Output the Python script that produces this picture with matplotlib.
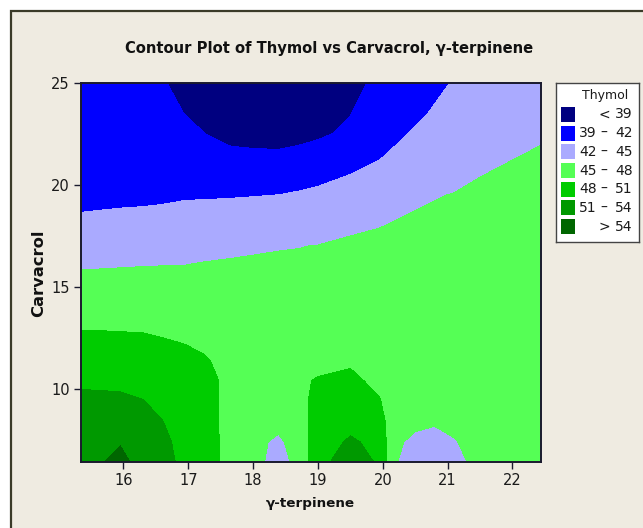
"""
Contour plot of Thymol vs Carvacrol and gamma-terpinene (Minitab style)
"""

import numpy as np
import matplotlib.pyplot as plt
from matplotlib.patches import Rectangle

# grid
gamma_terpinene = [15.33, 15.6, 15.95, 16.3, 16.6, 16.95, 17.25, 17.65, 18.0, 18.39, 18.7,
                   19.0, 19.5, 19.95, 20.15, 20.5, 20.8, 21.1, 21.5, 22.0, 22.46]
carvacrol = [6.42, 7.4, 8.4, 9.4, 10.4, 11.4, 12.5, 14.0, 15.5, 17.0, 18.5,
             19.5, 20.5, 21.5, 22.5, 23.5, 25.0]

# one list per gamma-terpinene column, values bottom -> top
col_a = [53.2, 52.59, 51.97, 51.35, 50.74, 49.6, 48.38, 46.86, 45.35, 43.74, 42.10, 41.4, 41.0, 40.73, 40.47, 40.2, 39.8]
col_b = [53.6, 52.89, 52.17, 51.45, 50.60, 49.54, 48.36, 46.86, 45.39, 43.81, 42.19, 41.4, 41.0, 40.67, 40.33, 40.0, 39.5]
col_c = [55.0, 53.76, 52.63, 51.49, 50.42, 49.41, 48.29, 46.86, 45.44, 43.91, 42.33, 41.4, 41.0, 40.62, 40.24, 39.87, 39.3]
col_d = [52.7, 52.16, 51.61, 51.07, 50.19, 49.26, 48.23, 46.86, 45.49, 44.0, 42.45, 41.4, 41.0, 40.58, 40.16, 39.73, 39.1]
col_e = [51.8, 51.6, 51.05, 50.34, 49.58, 48.84, 48.01, 46.75, 45.50, 44.08, 42.55, 41.53, 41.0, 40.57, 40.15, 39.72, 39.2]
col_f = [50.4, 50.1, 49.8, 49.45, 49.05, 48.6, 47.76, 46.63, 45.50, 44.17, 42.66, 41.76, 41.05, 40.35, 39.64, 38.95, 38.2]
col_g = [49.0, 48.9, 48.8, 48.75, 48.6, 48.2, 47.42, 46.45, 45.47, 44.5, 42.75, 41.78, 40.86, 39.94, 39.02, 38.45, 37.6]
col_h = [47.3, 47.3, 47.35, 47.4, 47.5, 47.3, 47.0, 46.2, 45.45, 44.69, 42.87, 41.83, 40.64, 39.45, 38.3, 37.7, 36.8]
col_i = [46.0, 45.72, 46.3, 46.6, 46.8, 46.8, 46.6, 46.1, 45.45, 44.81, 42.97, 41.91, 40.63, 39.35, 38.1, 37.3, 36.3]
col_j = [43.8, 44.5, 45.8, 46.3, 46.6, 46.6, 46.4, 46.0, 45.45, 44.91, 43.09, 42.01, 40.66, 39.30, 38.0, 37.2, 36.2]
col_k = [45.87, 46.2, 46.4, 46.8, 47.7, 46.9, 46.5, 46.1, 45.53, 44.95, 43.30, 42.25, 40.94, 39.53, 38.3, 37.5, 36.6]
col_l = [50.13, 49.9, 49.6, 49.2, 48.15, 47.4, 46.8, 46.3, 45.66, 45.05, 43.52, 42.50, 41.32, 39.99, 38.6, 38.0, 37.3]
col_m = [52.42, 51.3, 50.3, 49.5, 48.6, 47.6, 47.0, 46.5, 45.86, 45.21, 44.57, 43.29, 42.01, 40.96, 39.5, 38.92, 38.0]
col_n = [50.65, 50.4, 49.6, 48.2, 47.3, 47.0, 46.8, 46.5, 45.92, 45.34, 44.76, 43.75, 42.73, 41.72, 41.26, 40.67, 39.8]
col_o = [45.5, 45.7, 46.0, 46.2, 46.3, 46.4, 46.4, 46.3, 45.83, 45.37, 44.90, 44.02, 43.14, 42.26, 41.36, 40.83, 40.2]
col_p = [43.3, 44.3, 45.7, 46.1, 46.3, 46.4, 46.4, 46.3, 45.89, 45.48, 45.07, 44.78, 43.95, 43.12, 42.29, 41.46, 40.8]
col_q = [43.0, 44.0, 45.3, 45.9, 46.2, 46.4, 46.45, 46.4, 46.0, 45.59, 45.19, 44.92, 44.27, 43.61, 42.96, 42.30, 41.32]
col_r = [44.0, 44.8, 45.8, 46.2, 46.4, 46.5, 46.5, 46.4, 46.03, 45.66, 45.29, 45.05, 44.57, 44.05, 43.52, 42.99, 42.2]
col_s = [46.0, 46.2, 46.4, 46.5, 46.6, 46.6, 46.6, 46.5, 46.15, 45.79, 45.44, 45.20, 44.97, 44.41, 43.89, 43.38, 42.6]
col_t = [46.5, 46.6, 46.7, 46.7, 46.8, 46.8, 46.8, 46.7, 46.35, 45.99, 45.64, 45.40, 45.17, 44.93, 44.32, 43.79, 43.0]
col_u = [46.8, 46.9, 46.9, 47.0, 47.0, 47.0, 47.0, 46.9, 46.54, 46.19, 45.83, 45.59, 45.35, 45.11, 44.88, 44.24, 43.5]

levels = [39, 42, 45, 48, 51, 54]
colors = ["#000080", "#0000ff", "#aaaaff", "#55ff55", "#00cc00", "#009900", "#006600"]

x_ticks = [16, 17, 18, 19, 20, 21, 22]
y_ticks = [10, 15, 20, 25]

thymol = np.array([col_a, col_b, col_c, col_d, col_e, col_f, col_g, col_h, col_i, col_j, col_k,
                   col_l, col_m, col_n, col_o, col_p, col_q, col_r, col_s, col_t, col_u]).T
X, Y = np.meshgrid(gamma_terpinene, carvacrol)

W, H = 643, 528
bg = "#efebe1"
dark = "#1a1a2e"
txt = "#1a1a1a"

fig = plt.figure(figsize=(W / 100, H / 100), dpi=100, facecolor="white")
frame = Rectangle((11 / W, -0.05), 1.0, (H - 11) / H + 0.05, transform=fig.transFigure,
                  facecolor=bg, edgecolor="#3a3a28", linewidth=1.6, zorder=-10)
fig.patches.append(frame)

ax = fig.add_axes([80.7 / W, (H - 462) / H, (541 - 80.7) / W, (462 - 82.7) / H])
ax.contourf(X, Y, thymol, levels=[0] + levels + [100], colors=colors)
ax.set_xlim(15.34, 22.44)
ax.set_ylim(6.42, 25)
ax.set_xticks(x_ticks)
ax.set_yticks(y_ticks)
for sp in ax.spines.values():
    sp.set_color(dark)
    sp.set_linewidth(1.4)
ax.tick_params(direction="out", length=5, width=1, color=dark, labelsize=10.5,
               labelcolor=txt, pad=3)

fig.text(329.5 / W, 1 - 48 / H, "Contour Plot of Thymol vs Carvacrol, γ-terpinene",
         ha="center", va="center", fontsize=11.8, fontweight="bold", fontstretch="condensed",
         color="#111111")
fig.text(39 / W, 1 - 273 / H, "Carvacrol", rotation=90, ha="center", va="center",
         fontsize=11.8, fontweight="bold", color="#111111")
fig.text(310 / W, 1 - 503 / H, "γ-terpinene", ha="center", va="center",
         fontsize=9.7, fontweight="bold", color="#111111")

# legend box drawn in pixel coordinates
lax = fig.add_axes([556 / W, (H - 242) / H, 83 / W, 159 / H])
lax.set_xlim(556, 639)
lax.set_ylim(242, 83)
lax.set_xticks([])
lax.set_yticks([])
for sp in lax.spines.values():
    sp.set_color("#444444")
    sp.set_linewidth(1)
lax.text(605, 96, "Thymol", ha="center", va="center", fontsize=9, color=txt)

bounds = [None] + levels + [None]
for i, c in enumerate(colors):
    yc = 114.5 + i * 18.67
    lax.add_patch(Rectangle((561, yc - 7.5), 14, 15, facecolor=c, edgecolor="none"))
    lo, hi = bounds[i], bounds[i + 1]
    if lo is None:
        lax.text(604, yc, "<", ha="center", va="center", fontsize=10, color=txt)
        lax.text(624, yc, f"{hi}", ha="center", va="center", fontsize=10, color=txt)
    elif hi is None:
        lax.text(604, yc, ">", ha="center", va="center", fontsize=10, color=txt)
        lax.text(624, yc, f"{lo}", ha="center", va="center", fontsize=10, color=txt)
    else:
        lax.text(588, yc, f"{lo}", ha="center", va="center", fontsize=10, color=txt)
        lax.text(604, yc, "–", ha="center", va="center", fontsize=10, color=txt)
        lax.text(624, yc, f"{hi}", ha="center", va="center", fontsize=10, color=txt)

plt.savefig("out.png", dpi=100, facecolor=fig.get_facecolor())
